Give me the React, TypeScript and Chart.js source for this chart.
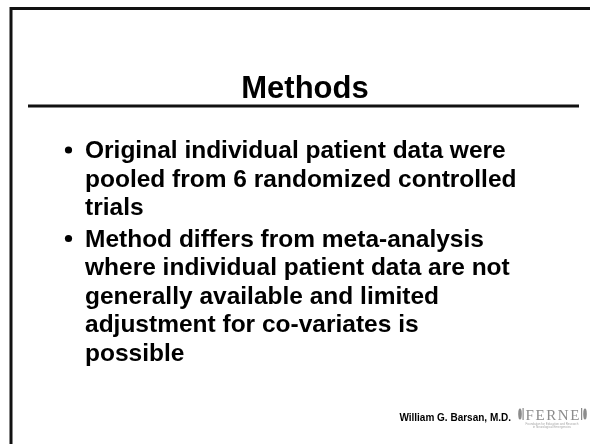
import React, { useEffect, useRef } from "react";
import { Chart, registerables } from "chart.js";

Chart.register(...registerables);

const titleText = "Methods";
const bullet1Lines = [
  "Original individual patient data were",
  "pooled from 6 randomized controlled",
  "trials",
];
const bullet2Lines = [
  "Method differs from meta-analysis",
  "where individual patient data are not",
  "generally available and limited",
  "adjustment for co-variates is",
  "possible",
];
const footerText = "William G. Barsan, M.D.";
const logoText = "FERNE";
const logoSubtitle = ["Foundation for Education and Research", "in Neurological Emergencies"];

const W = 590;
const H = 444;
const FONT = "'Liberation Sans', Arial, sans-serif";

const slidePlugin = {
  id: "slide",
  afterDraw(chart: any) {
    const ctx = chart.ctx as CanvasRenderingContext2D;
    ctx.save();
    // frame
    ctx.strokeStyle = "#111111";
    ctx.lineWidth = 3;
    ctx.beginPath();
    ctx.moveTo(11, H);
    ctx.lineTo(11, 8.5);
    ctx.lineTo(W, 8.5);
    ctx.stroke();

    // title
    ctx.fillStyle = "#000000";
    ctx.font = `bold 31px ${FONT}`;
    ctx.textAlign = "center";
    ctx.textBaseline = "alphabetic";
    ctx.fillText(titleText, 305, 98);

    // underline
    ctx.lineWidth = 3;
    ctx.beginPath();
    ctx.moveTo(28, 106);
    ctx.lineTo(579, 106);
    ctx.stroke();

    // bullets
    ctx.textAlign = "left";
    ctx.font = `bold 24.5px ${FONT}`;
    const lh = 28.5;
    const groups = [bullet1Lines, bullet2Lines];
    let y = 158;
    groups.forEach((lines, gi) => {
      if (gi > 0) y += 3;
      ctx.beginPath();
      ctx.arc(68.5, y - 8, 3.6, 0, Math.PI * 2);
      ctx.fill();
      lines.forEach((line) => {
        ctx.fillText(line, 85, y);
        y += lh;
      });
    });

    // footer
    ctx.font = `bold 10px ${FONT}`;
    ctx.textAlign = "right";
    ctx.fillText(footerText, 511, 421);

    // logo
    ctx.fillStyle = "#8c8c8c";
    ctx.font = `15px 'Liberation Serif', 'DejaVu Serif', serif`;
    ctx.textAlign = "left";
    let lx = 525.5;
    logoText.split("").forEach((ch) => {
      ctx.fillText(ch, lx, 420);
      lx += ctx.measureText(ch).width + 1.6;
    });
    // leaf ornaments
    const leaf = (cx: number, cy: number) => {
      ctx.beginPath();
      ctx.ellipse(cx, cy, 1.8, 5.5, 0, 0, Math.PI * 2);
      ctx.fill();
    };
    leaf(520, 414);
    ctx.fillRect(522.5, 408, 1.2, 12);
    ctx.fillRect(lx, 408, 1.2, 12);
    leaf(lx + 4, 414);
    ctx.font = `3px ${FONT}`;
    ctx.fillStyle = "#a8a8a8";
    ctx.textAlign = "center";
    ctx.fillText(logoSubtitle[0], 552, 424.5);
    ctx.fillText(logoSubtitle[1], 552, 428);
    ctx.restore();
  },
};

export default function App() {
  const ref = useRef<HTMLCanvasElement | null>(null);
  useEffect(() => {
    document.body.style.margin = "0";
    const canvas = ref.current;
    if (!canvas) return;
    const chart = new Chart(canvas, {
      type: "scatter",
      data: { datasets: [{ data: [] }] },
      options: {
        animation: false,
        responsive: false,
        events: [],
        plugins: { legend: { display: false }, tooltip: { enabled: false }, title: { display: false } },
        scales: { x: { display: false }, y: { display: false } },
      },
      plugins: [slidePlugin],
    });
    return () => chart.destroy();
  }, []);
  return (
    <div style={{ position: "fixed", left: 0, top: 0, width: W, height: H, background: "#fff" }}>
      <canvas ref={ref} width={W} height={H} style={{ display: "block", width: W, height: H }} />
    </div>
  );
}
